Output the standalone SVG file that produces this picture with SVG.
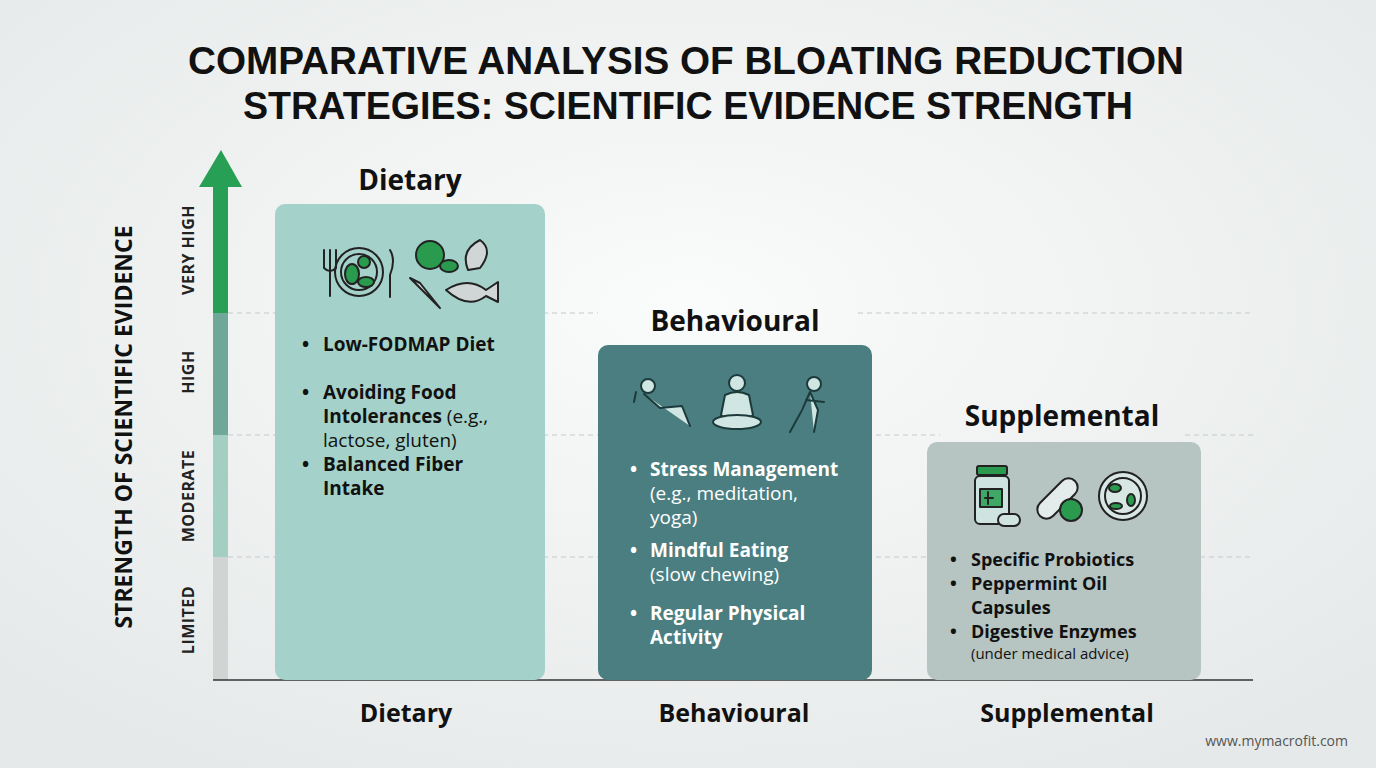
<svg xmlns="http://www.w3.org/2000/svg" width="1376" height="768" viewBox="0 0 1376 768">
<defs>
<radialGradient id="bg" cx="50%" cy="40%" r="70%"><stop offset="0" stop-color="#fafbfb"/><stop offset="1" stop-color="#e6e9e9"/></radialGradient>
<style>
text{font-family:"Open Sans","Noto Sans","Liberation Sans",sans-serif}
.title{font-size:38px;font-weight:800;fill:#111;text-anchor:middle;font-family:"Liberation Sans",sans-serif}
.h{font-size:28px;font-weight:700;fill:#111;text-anchor:middle}
.xl{font-size:25px;font-weight:700;fill:#111;text-anchor:middle}
.lvl{font-size:16px;font-weight:700;fill:#222;text-anchor:middle;letter-spacing:0.5px}
.d{font-size:19px;fill:#111}
.b{font-size:19px;fill:#fff}
.s{font-size:18px;fill:#111}
.dash{stroke:#c5c9c9;stroke-width:1.2;stroke-dasharray:5 4}
.ic{stroke:#222;stroke-width:2;fill:none;stroke-linecap:round;stroke-linejoin:round}
.icw{stroke:#1d3a3b;stroke-width:2;fill:#cfe6e2;stroke-linecap:round;stroke-linejoin:round}
.g{fill:#2a9a4e;stroke:#222;stroke-width:2}
</style>
</defs>
<rect width="1376" height="768" fill="url(#bg)"/>
<text class="title" x="686" y="74" textLength="996" lengthAdjust="spacingAndGlyphs">COMPARATIVE ANALYSIS OF BLOATING REDUCTION</text>
<text class="title" x="688" y="119" textLength="890" lengthAdjust="spacingAndGlyphs">STRATEGIES: SCIENTIFIC EVIDENCE STRENGTH</text>

<g id="axis">
<rect x="213" y="185" width="15" height="128" fill="#27a055"/>
<rect x="213" y="313" width="15" height="122" fill="#6fa898"/>
<rect x="213" y="435" width="15" height="122" fill="#a3cfc3"/>
<rect x="213" y="557" width="15" height="123" fill="#d0d4d3"/>
<polygon points="199,187 242,187 221,150" fill="#27a055"/>
<text class="lvl" transform="translate(194,250) rotate(-90)">VERY HIGH</text>
<text class="lvl" transform="translate(194,372) rotate(-90)">HIGH</text>
<text class="lvl" transform="translate(194,496) rotate(-90)">MODERATE</text>
<text class="lvl" transform="translate(194,620) rotate(-90)">LIMITED</text>
<text transform="translate(132,427) rotate(-90)" style="font-size:23px;font-weight:700;fill:#111;text-anchor:middle">STRENGTH OF SCIENTIFIC EVIDENCE</text>
</g>

<g id="connectors">
<line class="dash" x1="228" y1="313" x2="598" y2="313"/>
<line class="dash" x1="858" y1="313" x2="1253" y2="313"/>
<line class="dash" x1="228" y1="435" x2="940" y2="435"/>
<line class="dash" x1="1185" y1="435" x2="1253" y2="435"/>
<line class="dash" x1="228" y1="557" x2="1253" y2="557"/>
<line x1="213" y1="680" x2="1253" y2="680" stroke="#333" stroke-width="1.5"/>
</g>

<g id="dietary">
<rect x="275" y="204" width="270" height="476" rx="10" fill="#a4d1c9"/>
<text class="h" x="410" y="190">Dietary</text>
<g class="ic">
<path d="M324 250v18M330 250v46M336 250v18M324 268q6 6 12 0"/>
<circle cx="359" cy="272" r="24"/><circle cx="359" cy="272" r="18"/>
<ellipse cx="352" cy="274" rx="7" ry="10" class="g"/><circle cx="364" cy="262" r="6" class="g"/><ellipse cx="366" cy="282" rx="8" ry="5" class="g"/>
<path d="M390 250q6 10 0 25v22"/>
<circle cx="430" cy="255" r="14" class="g"/><ellipse cx="449" cy="266" rx="9" ry="6" class="g"/>
<path d="M468 270q-8-20 12-30q14 10 0 28z" fill="#cfd6d5"/>
<path d="M410 278l30 30l-20-25z" fill="#d0d6d6"/>
<path d="M446 290q22-14 40 0l12-8v20l-12-6q-18 14-40-6z" fill="#cfd6d5"/>
</g>
<text class="d" x="302" y="351" font-weight="700">•</text>
<text class="d" x="323" y="351" font-weight="700">Low-FODMAP Diet</text>
<text class="d" x="302" y="399" font-weight="700">•</text>
<text class="d" x="323" y="399" font-weight="700">Avoiding Food</text>
<text class="d" x="323" y="423"><tspan font-weight="700">Intolerances</tspan> (e.g.,</text>
<text class="d" x="323" y="447">lactose, gluten)</text>
<text class="d" x="302" y="471" font-weight="700">•</text>
<text class="d" x="323" y="471" font-weight="700">Balanced Fiber</text>
<text class="d" x="323" y="495" font-weight="700">Intake</text>
</g>

<g id="behavioural">
<rect x="598" y="345" width="274" height="335" rx="10" fill="#4a7e81"/>
<text class="h" x="735" y="331">Behavioural</text>
<g class="icw">
<circle cx="648" cy="386" r="7"/><path d="M644 394l16 14l22-2l8 20M636 392l-2 10"/>
<circle cx="737" cy="383" r="8"/><path d="M725 395q12-6 24 0l4 20q-16 16-32 0z"/><ellipse cx="737" cy="422" rx="24" ry="7"/>
<circle cx="814" cy="384" r="7"/><path d="M810 392l-8 18l-12 22M810 392l8 18l-4 22M806 400l18 2"/>
</g>
<text class="b" x="630" y="476" font-weight="700">•</text>
<text class="b" x="650" y="476" font-weight="700">Stress Management</text>
<text class="b" x="650" y="500">(e.g., meditation,</text>
<text class="b" x="650" y="524">yoga)</text>
<text class="b" x="630" y="557" font-weight="700">•</text>
<text class="b" x="650" y="557" font-weight="700">Mindful Eating</text>
<text class="b" x="650" y="581">(slow chewing)</text>
<text class="b" x="630" y="620" font-weight="700">•</text>
<text class="b" x="650" y="620" font-weight="700">Regular Physical</text>
<text class="b" x="650" y="644" font-weight="700">Activity</text>
</g>

<g id="supplemental">
<rect x="927" y="442" width="274" height="238" rx="10" fill="#b6c5c2"/>
<text class="h" x="1062" y="426">Supplemental</text>
<g class="ic">
<rect x="977" y="466" width="30" height="9" rx="2" class="g"/>
<rect x="975" y="476" width="34" height="48" rx="5" fill="#cfe3e1"/>
<rect x="980" y="489" width="22" height="18" fill="#3fa866"/>
<path d="M988 492v12M985 498h8" stroke="#222"/>
<rect x="998" y="514" width="22" height="12" rx="6" fill="#cfe3e1"/>
<path d="M1040 503l22-22a9 9 0 0 1 13 13l-22 22a9 9 0 0 1-13-13z" fill="#e3ecea"/>
<circle cx="1071" cy="510" r="11" class="g"/>
<circle cx="1123" cy="496" r="24" fill="#d8e7e3"/>
<circle cx="1123" cy="496" r="18"/>
<ellipse cx="1115" cy="488" rx="6" ry="4" class="g"/><ellipse cx="1131" cy="500" rx="4" ry="6" class="g"/><ellipse cx="1116" cy="506" rx="6" ry="3" class="g"/>
</g>
<text class="s" x="950" y="566" font-weight="700">•</text>
<text class="s" x="971" y="566" font-weight="700">Specific Probiotics</text>
<text class="s" x="950" y="590" font-weight="700">•</text>
<text class="s" x="971" y="590" font-weight="700">Peppermint Oil</text>
<text class="s" x="971" y="614" font-weight="700">Capsules</text>
<text class="s" x="950" y="638" font-weight="700">•</text>
<text class="s" x="971" y="638" font-weight="700">Digestive Enzymes</text>
<text x="971" y="659" style="font-size:15px;fill:#111">(under medical advice)</text>
</g>

<text class="xl" x="406" y="722">Dietary</text>
<text class="xl" x="734" y="722">Behavioural</text>
<text class="xl" x="1067" y="722">Supplemental</text>
<text x="1348" y="746" style="font-size:14px;fill:#555;text-anchor:end">www.mymacrofit.com</text>
</svg>
